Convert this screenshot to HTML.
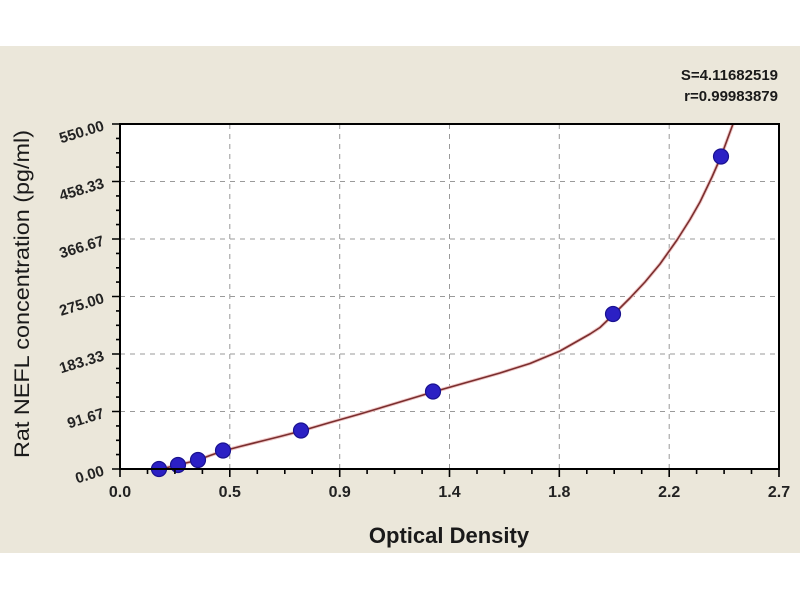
<!DOCTYPE html>
<html>
<head>
<meta charset="utf-8">
<style>
  html, body { margin: 0; padding: 0; background: #ffffff; }
  body { width: 800px; height: 600px; overflow: hidden; }
  svg { display: block; }
  text { font-family: "Liberation Sans", Arial, sans-serif; }
</style>
</head>
<body>
<svg width="800" height="600" viewBox="0 0 800 600" xmlns="http://www.w3.org/2000/svg">
  <rect x="0" y="0" width="800" height="600" fill="#ffffff"/>
  <rect x="0" y="46" width="800" height="507" fill="#ebe7da"/>

  <!-- plot area -->
  <rect x="120" y="124" width="659" height="345" fill="#ffffff"/>

  <!-- grid -->
  <g stroke="#9a9a9a" stroke-width="1" stroke-dasharray="5,5" fill="none">
    <line x1="120" y1="411.5" x2="779" y2="411.5"/>
    <line x1="120" y1="354" x2="779" y2="354"/>
    <line x1="120" y1="296.5" x2="779" y2="296.5"/>
    <line x1="120" y1="239" x2="779" y2="239"/>
    <line x1="120" y1="181.5" x2="779" y2="181.5"/>
    <line x1="229.8" y1="124" x2="229.8" y2="469"/>
    <line x1="339.7" y1="124" x2="339.7" y2="469"/>
    <line x1="449.5" y1="124" x2="449.5" y2="469"/>
    <line x1="559.3" y1="124" x2="559.3" y2="469"/>
    <line x1="669.2" y1="124" x2="669.2" y2="469"/>
  </g>

  <!-- curve -->
  <polyline fill="none" stroke="#f0c8c8" stroke-width="3.5" stroke-linejoin="round"
    points="156,470 165,468 178,465 188,462.5 198,460 210,455.5 223,451 240,446.5 260,441.5 280,436.5 301,431 330,422.5 360,414 390,405 433,392 470,381.5 500,373 530,363.5 560,351 590,334 600,327.5 613,315 630,298 645,282 660,264 677,240 690,219.5 700,202 712,177 721,156.5 733,124"/>
  <polyline fill="none" stroke="#7a2e2e" stroke-width="1.6" stroke-linejoin="round"
    points="156,470 165,468 178,465 188,462.5 198,460 210,455.5 223,451 240,446.5 260,441.5 280,436.5 301,431 330,422.5 360,414 390,405 433,392 470,381.5 500,373 530,363.5 560,351 590,334 600,327.5 613,315 630,298 645,282 660,264 677,240 690,219.5 700,202 712,177 721,156.5 733,124"/>

  <!-- data points -->
  <g fill="#2b20c4" stroke="#1a1290" stroke-width="1.2">
    <circle cx="159" cy="469" r="7.5"/>
    <circle cx="178" cy="465" r="7.5"/>
    <circle cx="198" cy="460" r="7.5"/>
    <circle cx="223" cy="450.5" r="7.5"/>
    <circle cx="301" cy="430.5" r="7.5"/>
    <circle cx="433" cy="391.5" r="7.5"/>
    <circle cx="613" cy="314" r="7.5"/>
    <circle cx="721" cy="156.5" r="7.5"/>
  </g>

  <!-- frame -->
  <rect x="120" y="124" width="659" height="345" fill="none" stroke="#000000" stroke-width="2"/>

  <!-- ticks -->
  <path stroke="#000000" stroke-width="1.6" fill="none" d="
    M112,469 H120 M112,411.5 H120 M112,354 H120 M112,296.5 H120 M112,239 H120 M112,181.5 H120 M112,124 H120
    M116,454.6 H120 M116,440.3 H120 M116,425.9 H120
    M116,397.1 H120 M116,382.8 H120 M116,368.4 H120
    M116,339.6 H120 M116,325.3 H120 M116,310.9 H120
    M116,282.1 H120 M116,267.8 H120 M116,253.4 H120
    M116,224.6 H120 M116,210.3 H120 M116,195.9 H120
    M116,167.1 H120 M116,152.8 H120 M116,138.4 H120
    M120,469 V477 M229.8,469 V477 M339.7,469 V477 M449.5,469 V477 M559.3,469 V477 M669.2,469 V477 M779,469 V477
    M147.5,469 V474 M174.9,469 V474 M202.4,469 V474
    M257.3,469 V474 M284.8,469 V474 M312.2,469 V474
    M367.1,469 V474 M394.6,469 V474 M422.1,469 V474
    M477,469 V474 M504.4,469 V474 M531.9,469 V474
    M586.8,469 V474 M614.2,469 V474 M641.7,469 V474
    M696.6,469 V474 M724.1,469 V474 M751.5,469 V474"/>

  <!-- y tick labels -->
  <g font-size="15" font-weight="bold" fill="#222222" text-anchor="end">
    <text x="105" y="475" transform="rotate(-17 105 475)">0.00</text>
    <text x="105" y="417.5" transform="rotate(-17 105 417.5)">91.67</text>
    <text x="105" y="360" transform="rotate(-17 105 360)">183.33</text>
    <text x="105" y="302.5" transform="rotate(-17 105 302.5)">275.00</text>
    <text x="105" y="245" transform="rotate(-17 105 245)">366.67</text>
    <text x="105" y="187.5" transform="rotate(-17 105 187.5)">458.33</text>
    <text x="105" y="130" transform="rotate(-17 105 130)">550.00</text>
  </g>

  <!-- x tick labels -->
  <g font-size="16" font-weight="bold" fill="#222222" text-anchor="middle">
    <text x="120" y="497">0.0</text>
    <text x="229.8" y="497">0.5</text>
    <text x="339.7" y="497">0.9</text>
    <text x="449.5" y="497">1.4</text>
    <text x="559.3" y="497">1.8</text>
    <text x="669.2" y="497">2.2</text>
    <text x="779" y="497">2.7</text>
  </g>

  <!-- axis titles -->
  <text x="449" y="543" font-size="22" font-weight="bold" fill="#1a1a1a" text-anchor="middle">Optical Density</text>
  <text x="0" y="0" font-size="21" fill="#1a1a1a" text-anchor="middle" textLength="328" lengthAdjust="spacingAndGlyphs"
        transform="translate(29 294) rotate(-90)">Rat NEFL concentration (pg/ml)</text>

  <!-- stats -->
  <g font-size="15" font-weight="bold" fill="#1a1a1a" text-anchor="end">
    <text x="778" y="80">S=4.11682519</text>
    <text x="778" y="101">r=0.99983879</text>
  </g>
</svg>
</body>
</html>
